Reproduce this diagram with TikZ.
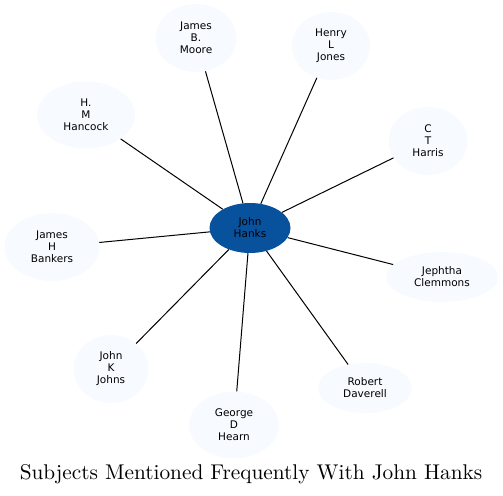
\documentclass[tikz,border=0pt]{standalone}
\usepackage{fontspec}
\usetikzlibrary{shapes.geometric}
\newfontfamily\nodefont{DejaVu Sans}
\newfontfamily\titlefont{lmroman10-regular}[Extension=.otf]
\definecolor{azulclaro}{HTML}{F7FBFF}
\definecolor{azuloscuro}{HTML}{08519C}
\tikzset{
  sujeto/.style={ellipse, fill=azulclaro, inner sep=0pt, align=center,
    font=\nodefont\fontsize{10.5}{12}\selectfont},
  central/.style={sujeto, fill=azuloscuro},
  enlace/.style={line width=1pt}
}
\begin{document}
\begin{tikzpicture}[x=1pt,y=-1pt]
            \useasboundingbox (0,0) rectangle (503,495);

            % Nodo central (azul oscuro)
            \node[central, minimum width=81pt, minimum height=50pt] (hanks) at (250,228) {John\\Hanks};

            % Nodos exteriores (azul claro)
            \node[sujeto, minimum width=81pt, minimum height=68pt] (moore) at (196,38) {James\\B.\\Moore};
            \node[sujeto, minimum width=78pt, minimum height=68pt] (jones) at (331,46) {Henry\\L\\Jones};
            \node[sujeto, minimum width=98pt, minimum height=67pt] (hancock) at (86,115) {H.\\M\\Hancock};
            \node[sujeto, minimum width=79pt, minimum height=68pt] (harris) at (428,141) {C\\T\\Harris};
            \node[sujeto, minimum width=95pt, minimum height=68pt] (bankers) at (52,247) {James\\H\\Bankers};
            \node[sujeto, minimum width=112pt, minimum height=50pt] (clemmons) at (442,277) {Jephtha\\Clemmons};
            \node[sujeto, minimum width=75pt, minimum height=68pt] (johns) at (111,369) {John\\K\\Johns};
            \node[sujeto, minimum width=90pt, minimum height=67pt] (hearn) at (234,425) {George\\D\\Hearn};
            \node[sujeto, minimum width=94pt, minimum height=50pt] (daverell) at (365,388) {Robert\\Daverell};

            % Enlaces
            \foreach \n in {moore,jones,hancock,harris,bankers,clemmons,johns,hearn,daverell}
                \draw[enlace] (hanks) -- (\n);

            % Titulo
            \node[anchor=base, font=\titlefont\fontsize{21.3}{25}\selectfont] (titulo) at (251,479) {Subjects Mentioned Frequently With John Hanks};
        \end{tikzpicture}
\end{document}
